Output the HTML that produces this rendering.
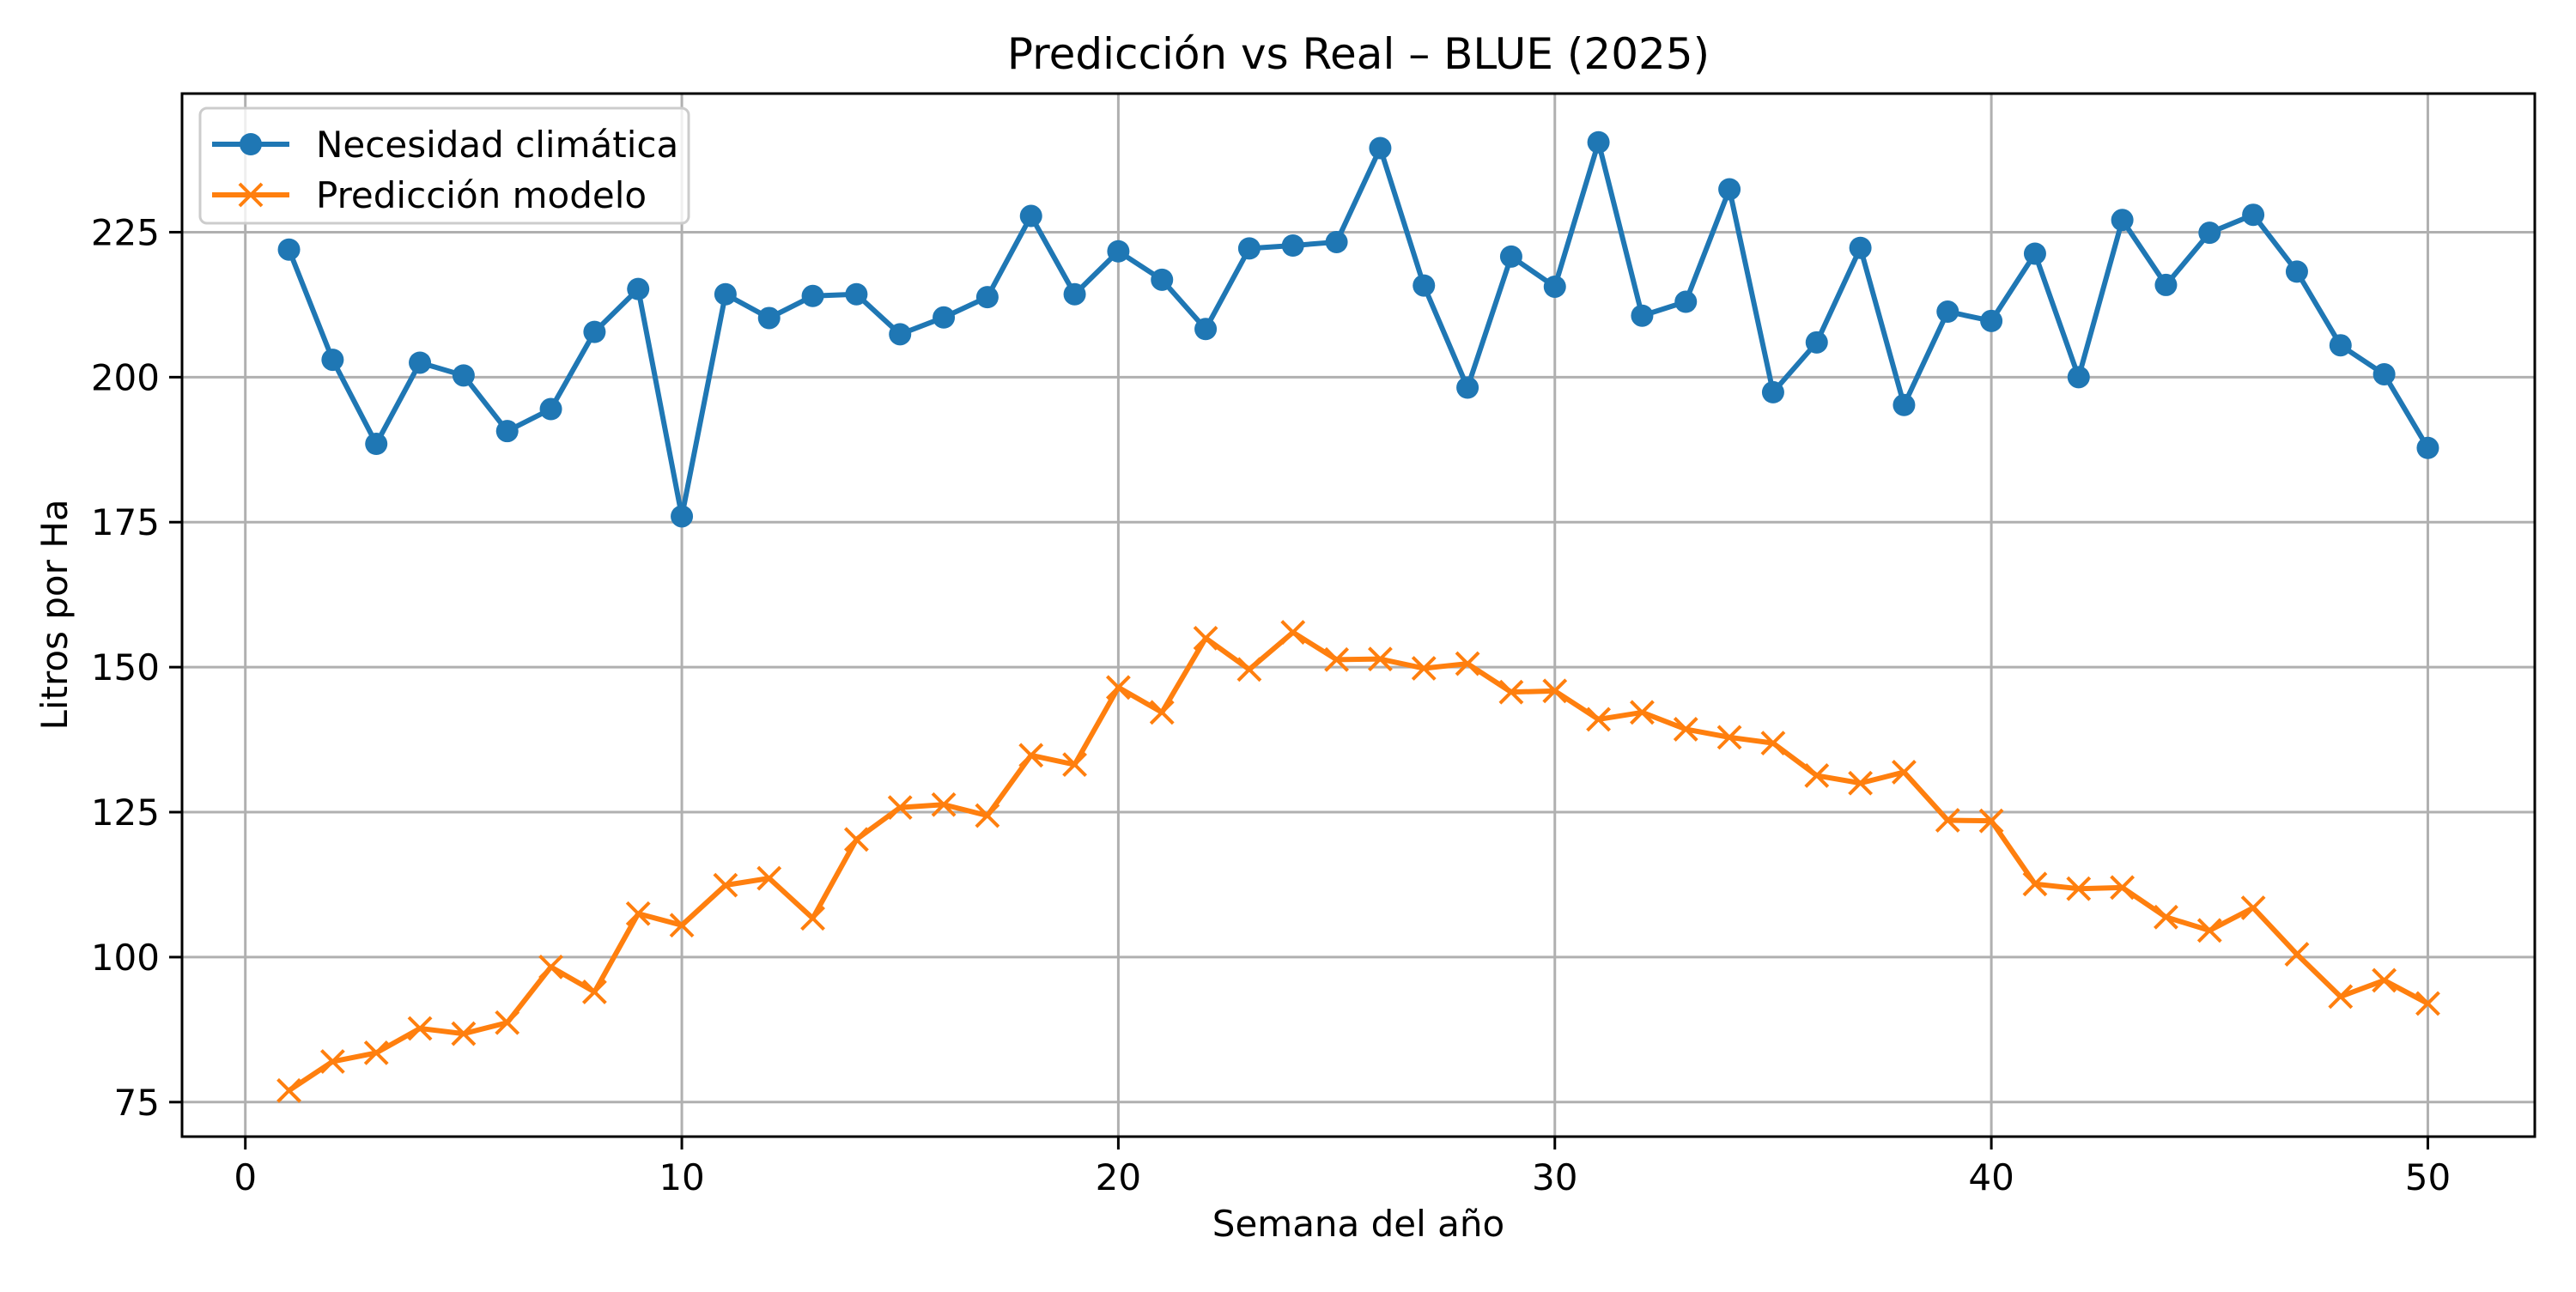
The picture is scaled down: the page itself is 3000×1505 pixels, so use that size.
<!DOCTYPE html>
<html><head><meta charset="utf-8"><style>
html,body{margin:0;padding:0;background:#fff;}
svg text{font-family:"DejaVu Sans","Liberation Sans",sans-serif;}
</style></head><body>
<svg id="chart" width="3000" height="1500" viewBox="0 0 3000 1500" xmlns="http://www.w3.org/2000/svg">
<rect width="3000" height="1500" fill="#fff"/>
<g id="grid"></g>
<g id="series"></g>
<rect x="212" y="109" width="2740" height="1215" fill="none" stroke="#000" stroke-width="3"/>
<g id="ticks"></g>
<text x="1582" y="80" font-size="50" text-anchor="middle">Predicción vs Real – BLUE (2025)</text>
<text x="1582" y="1440" font-size="42" text-anchor="middle">Semana del año</text>
<text x="78" y="716" font-size="42" text-anchor="middle" transform="rotate(-90 78 716)">Litros por Ha</text>
<g>
<rect x="233" y="126" width="569" height="134" rx="8" fill="#fff" fill-opacity="0.8" stroke="#ccc" stroke-width="3"/>
<line x1="247" y1="168" x2="337" y2="168" stroke="#1f77b4" stroke-width="6"/>
<circle cx="292" cy="168" r="13" fill="#1f77b4"/>
<text x="368" y="183" font-size="42">Necesidad climática</text>
<line x1="247" y1="227" x2="337" y2="227" stroke="#ff7f0e" stroke-width="6"/>
<path d="M279 214 L305 240 M305 214 L279 240" stroke="#ff7f0e" stroke-width="4"/>
<text x="368" y="242" font-size="42">Predicción modelo</text>
</g>
</svg>
<script>
const weeks = Array.from({length:50},(_,i)=>i+1);
const necesidad = [222,203,188.5,202.5,200.3,190.7,194.5,207.8,215.2,176,214.3,210.2,214,214.3,207.4,210.3,213.8,227.8,214.3,221.7,216.8,208.3,222.2,222.7,223.3,239.5,215.8,198.2,220.8,215.6,240.5,210.6,213,232.4,197.4,206,222.3,195.2,211.3,209.7,221.3,200,227.1,215.9,224.9,228,218.2,205.5,200.5,187.8];
const prediccion = [77,82,83.5,87.7,86.8,88.7,98.3,94,107.5,105.5,112.4,113.6,106.7,120.3,125.8,126.3,124.4,134.8,133.2,146.5,142.2,155,149.6,156,151.3,151.4,149.8,150.6,145.7,145.9,141,142.2,139.3,137.9,136.9,131.3,130,131.9,123.6,123.5,112.6,111.8,112,106.9,104.6,108.5,100.5,93.2,96,92];
const xTicks = [0,10,20,30,40,50];
const yTicks = [75,100,125,150,175,200,225];
const NS='http://www.w3.org/2000/svg';
const X0=212,X1=2952,Y0=109,Y1=1324;
const xMin=-1.45,xMax=52.45,yMin=69.05,yMax=248.9;
function sx(v){return X0+(v-xMin)/(xMax-xMin)*(X1-X0);}
function sy(v){return Y1-(v-yMin)/(yMax-yMin)*(Y1-Y0);}
function mk(tag,attrs,parent){const e=document.createElementNS(NS,tag);for(const k in attrs)e.setAttribute(k,attrs[k]);parent.appendChild(e);return e;}
const grid=document.getElementById('grid'),ticks=document.getElementById('ticks'),ser=document.getElementById('series');
xTicks.forEach(t=>{
  const g=mk('line',{x1:sx(t),x2:sx(t),y1:Y0,y2:Y1,stroke:'#b0b0b0','stroke-width':3},grid);
  
  
  const tk=mk('line',{x1:sx(t),x2:sx(t),y1:Y1,y2:Y1+15,stroke:'#000','stroke-width':3},ticks);
  
  
  const tx=mk('text',{x:sx(t),y:Y1+62,'font-size':42,'text-anchor':'middle'},ticks);
  tx.textContent=t;
  
  
});
yTicks.forEach(t=>{
  const g=mk('line',{x1:X0,x2:X1,y1:sy(t),y2:sy(t),stroke:'#b0b0b0','stroke-width':3},grid);
  
  
  const tk=mk('line',{x1:X0-15,x2:X0,y1:sy(t),y2:sy(t),stroke:'#000','stroke-width':3},ticks);
  
  
  const tx=mk('text',{x:X0-26,y:sy(t)+15,'font-size':42,'text-anchor':'end'},ticks);
  tx.textContent=t;
  
  
});
function line(vals,color,name){
  const p=mk('polyline',{points:vals.map((v,i)=>sx(weeks[i])+','+sy(v)).join(' '),fill:'none',stroke:color,'stroke-width':6,'stroke-linejoin':'round'},ser);
  
  
}
line(necesidad,'#1f77b4','necesidad-line');
line(prediccion,'#ff7f0e','prediccion-line');
necesidad.forEach((v,i)=>{
  const c=mk('circle',{cx:sx(weeks[i]),cy:sy(v),r:13,fill:'#1f77b4'},ser);
  
  
});
prediccion.forEach((v,i)=>{
  const x=sx(weeks[i]),y=sy(v),d=13;
  const p=mk('path',{d:`M${x-d} ${y-d} L${x+d} ${y+d} M${x+d} ${y-d} L${x-d} ${y+d}`,stroke:'#ff7f0e','stroke-width':4},ser);
  
  
});
</script>
</body></html>
